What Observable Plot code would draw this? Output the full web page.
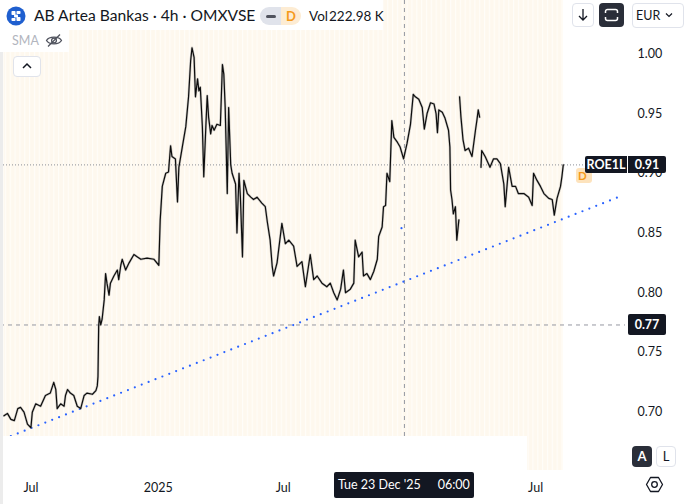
<!DOCTYPE html>
<html><head><meta charset="utf-8">
<script src="https://cdn.jsdelivr.net/npm/d3@7"></script>
<script src="https://cdn.jsdelivr.net/npm/@observablehq/plot@0.6"></script>
<style>
html,body{margin:0;padding:0;background:#fff;}
body{width:689px;height:504px;overflow:hidden;font-family:Lato,"Noto Sans",sans-serif;color:#131722;}
#wrap{position:relative;width:689px;height:504px;}
#wrap > svg{position:absolute;left:0;top:0;}
.ov{position:absolute;box-sizing:border-box;}
.btn{position:absolute;box-sizing:border-box;border:1px solid #e0e3eb;border-radius:4px;background:#fff;}
.lbl{position:absolute;box-sizing:border-box;background:#131722;color:#fff;font-size:12.5px;font-weight:700;text-align:center;}
</style></head>
<body><div id="wrap"></div>
<script>
const priceSeg1 = [
["2024-05-23",0.697],["2024-05-28",0.699],["2024-06-02",0.694],["2024-06-07",0.693],["2024-06-12",0.703],
["2024-06-16",0.704],["2024-06-21",0.700],["2024-06-26",0.690],["2024-07-01",0.687],["2024-07-03",0.700],
["2024-07-08",0.707],["2024-07-15",0.705],["2024-07-22",0.714],["2024-07-29",0.716],["2024-08-03",0.725],
["2024-08-06",0.719],["2024-08-08",0.703],["2024-08-13",0.707],["2024-08-18",0.705],["2024-08-20",0.714],
["2024-08-23",0.719],["2024-08-27",0.716],["2024-09-01",0.714],["2024-09-06",0.705],["2024-09-11",0.703],
["2024-09-16",0.714],["2024-09-20",0.716],["2024-09-28",0.715],["2024-10-03",0.718],["2024-10-05",0.722],
["2024-10-06",0.730],["2024-10-07",0.772],["2024-10-08",0.780],["2024-10-10",0.773],["2024-10-12",0.778],
["2024-10-15",0.794],["2024-10-17",0.816],["2024-10-19",0.808],["2024-10-22",0.798],["2024-10-24",0.808],
["2024-10-29",0.814],["2024-11-03",0.819],["2024-11-05",0.811],["2024-11-08",0.823],["2024-11-10",0.828],
["2024-11-15",0.819],["2024-11-20",0.825],["2024-11-27",0.832],["2024-12-02",0.830],["2024-12-07",0.828],
["2024-12-16",0.829],["2024-12-26",0.828],["2025-01-02",0.823],["2025-01-04",0.861],["2025-01-07",0.889],
["2025-01-12",0.900],["2025-01-16",0.901],["2025-01-19",0.923],["2025-01-21",0.914],["2025-01-26",0.912],
["2025-01-29",0.876],["2025-01-31",0.905],["2025-02-05",0.922],["2025-02-10",0.939],["2025-02-14",0.964],
["2025-02-17",0.994],["2025-02-19",1.005],["2025-02-22",0.997],["2025-02-24",0.964],["2025-02-27",0.979],
["2025-03-01",0.969],["2025-03-03",0.972],["2025-03-06",0.939],["2025-03-08",0.897],["2025-03-11",0.939],
["2025-03-13",0.965],["2025-03-15",0.947],["2025-03-18",0.933],["2025-03-20",0.940],["2025-03-23",0.936],
["2025-03-27",0.941],["2025-04-01",0.940],["2025-04-04",0.991],["2025-04-06",0.983],["2025-04-08",0.955],
["2025-04-11",0.883],["2025-04-13",0.955],["2025-04-16",0.907],["2025-04-18",0.900],["2025-04-23",0.891],
["2025-04-25",0.850],["2025-04-28",0.900],["2025-04-30",0.880],["2025-05-03",0.830],["2025-05-05",0.894],
["2025-05-10",0.883],["2025-05-15",0.880],["2025-05-19",0.878],["2025-05-24",0.880],["2025-05-31",0.875],
["2025-06-05",0.872],["2025-06-08",0.859],["2025-06-12",0.844],["2025-06-15",0.822],["2025-06-17",0.814],
["2025-06-22",0.825],["2025-06-29",0.858],["2025-07-04",0.841],["2025-07-09",0.844],["2025-07-16",0.839],
["2025-07-21",0.822],["2025-07-28",0.826],["2025-08-02",0.805],["2025-08-09",0.832],["2025-08-14",0.811],
["2025-08-19",0.814],["2025-08-26",0.808],["2025-09-02",0.805],["2025-09-07",0.808],["2025-09-12",0.800],
["2025-09-17",0.794],["2025-09-22",0.803],["2025-09-26",0.819],["2025-09-29",0.800],["2025-10-06",0.803],
["2025-10-11",0.808],["2025-10-13",0.844],["2025-10-18",0.830],["2025-10-23",0.834],["2025-10-25",0.814],
["2025-10-30",0.816],["2025-11-04",0.811],["2025-11-09",0.818],["2025-11-14",0.828],["2025-11-16",0.847],
["2025-11-21",0.855],["2025-11-23",0.872],["2025-11-26",0.873],["2025-11-28",0.900],["2025-12-02",0.893],
["2025-12-05",0.944],["2025-12-08",0.930],["2025-12-13",0.926],["2025-12-17",0.922],["2025-12-22",0.912],
["2025-12-27",0.925],["2026-01-01",0.941],["2026-01-05",0.966],["2026-01-08",0.964],["2026-01-13",0.962],
["2026-01-18",0.955],["2026-01-21",0.937],["2026-01-25",0.950],["2026-01-30",0.959],["2026-02-04",0.958],
["2026-02-07",0.950],["2026-02-09",0.934],["2026-02-11",0.953],["2026-02-16",0.951],["2026-02-20",0.946],
["2026-02-25",0.936],["2026-02-27",0.922],["2026-02-28",0.886],["2026-03-02",0.878],["2026-03-04",0.866],
["2026-03-07",0.872],["2026-03-09",0.844],["2026-03-12",0.861]
];
const priceSeg2 = [
["2026-03-13",0.964],["2026-03-15",0.947],["2026-03-18",0.928],["2026-03-21",0.919],["2026-03-26",0.921],
["2026-03-31",0.914],["2026-04-05",0.936],["2026-04-07",0.944],["2026-04-09",0.953],["2026-04-11",0.947]
];
const priceSeg3 = [
["2026-04-13",0.905],["2026-04-14",0.919],["2026-04-19",0.914],["2026-04-26",0.905],["2026-05-01",0.912],
["2026-05-06",0.912],["2026-05-11",0.908],["2026-05-16",0.891],["2026-05-18",0.872],["2026-05-23",0.905],
["2026-05-28",0.889],["2026-06-02",0.889],["2026-06-06",0.883],["2026-06-14",0.883],["2026-06-21",0.880],
["2026-06-26",0.873],["2026-06-28",0.900],["2026-07-03",0.894],["2026-07-08",0.889],["2026-07-13",0.883],
["2026-07-20",0.879],["2026-07-25",0.878],["2026-07-28",0.865],["2026-08-01",0.879],["2026-08-06",0.889],
["2026-08-08",0.897],["2026-08-10",0.907]
];
const trendLine = [["2024-06-02",0.680],["2026-11-02",0.881]];
const strayMark = [["2025-12-19",0.854]];
const crosshair = {time:"2025-12-23 06:00", price:0.773};
const xDomain = ["2024-05-18","2026-11-08"];
const yDomain = [0.6512, 1.0446];
const xTickDates = ["2024-07-01","2025-01-01","2025-07-01","2026-07-01"];
const xTickLabels = ["Jul","2025","Jul","Jul"];
const yTicks = [0.70,0.75,0.80,0.85,0.90,0.95,1.00];
const symbol = "ROE1L";
const titleText = "AB Artea Bankas · 4h · OMXVSE";
const volText = "222.98 K";

// ---- build ----
const pDay = d3.utcParse("%Y-%m-%d");
const pTime = d3.utcParse("%Y-%m-%d %H:%M");
const rows = [];
[priceSeg1, priceSeg2, priceSeg3].forEach((s, i) => s.forEach(([d, v]) => rows.push({date: pDay(d), close: v, seg: i})));
const trend = trendLine.map(([d, v]) => ({date: pDay(d), v}));
const stray = strayMark.map(([d, v]) => ({date: pDay(d), v}));
const firstDate = rows[0].date, lastDate = rows[rows.length - 1].date;
const lastClose = rows[rows.length - 1].close;
const crossDate = pTime(crosshair.time);
const tickMap = new Map(xTickDates.map((d, i) => [+pDay(d), xTickLabels[i]]));

const plot = Plot.plot({
  width: 689, height: 504,
  marginLeft: 0, marginRight: 64, marginTop: 0, marginBottom: 34,
  style: {fontFamily: "Lato, 'Noto Sans', sans-serif", fontSize: "12.5px", color: "#131722", background: "transparent", overflow: "visible"},
  x: {type: "utc", domain: xDomain.map(pDay), label: null},
  y: {domain: yDomain, label: null},
  marks: [
    Plot.rect([{x1: firstDate, x2: lastDate}], {x1: "x1", x2: "x2", fill: "#fef9f0", className: "sessbg"}),
    Plot.ruleX([crossDate], {stroke: "#9598a1", strokeWidth: 1, strokeDasharray: "4 4"}),
    Plot.ruleY([crosshair.price], {stroke: "#9598a1", strokeWidth: 1, strokeDasharray: "4 4"}),
    Plot.ruleY([lastClose], {stroke: "#8c8f97", strokeWidth: 1, strokeDasharray: "1 2"}),
    Plot.line(trend, {x: "date", y: "v", stroke: "#2962ff", strokeWidth: 2.2, strokeDasharray: "0 7.4", strokeLinecap: "round"}),
    Plot.dot(stray, {x: "date", y: "v", r: 1.1, fill: "#2962ff"}),
    Plot.line(rows, {x: "date", y: "close", z: "seg", stroke: "#8a8a8a", strokeWidth: 2.4, strokeOpacity: 0.45}),
    Plot.line(rows, {x: "date", y: "close", z: "seg", stroke: "#0d0d0d", strokeWidth: 1.2}),
    Plot.axisX({ticks: xTickDates.map(pDay), tickFormat: d => tickMap.get(+d), tickSize: 0, tickPadding: 13, fontSize: 12.5, fill: "#131722"}),
    Plot.axisY({anchor: "right", ticks: yTicks, tickFormat: d => d.toFixed(2), tickSize: 0, tickPadding: 12, fontSize: 12.5, fill: "#131722"})
  ]
});

const wrap = document.getElementById("wrap");
wrap.appendChild(plot);

// faint weekly stripes inside the session background
const svg = d3.select(plot);
const defs = svg.insert("defs", ":first-child");
const pat = defs.append("pattern").attr("id", "stripes").attr("patternUnits", "userSpaceOnUse").attr("width", 4.84).attr("height", 10);
pat.append("rect").attr("width", 4.84).attr("height", 10).attr("fill", "#fef8ee");
pat.append("rect").attr("width", 1.2).attr("height", 10).attr("fill", "#fffdf9");
svg.selectAll(".sessbg rect").attr("fill", "url(#stripes)");

const sx = plot.scale("x"), sy = plot.scale("y");
const yLast = sy.apply(lastClose);
const yCross = sy.apply(crosshair.price);
const xCross = sx.apply(crossDate);
const fmtDay = d3.utcFormat("%a %d %b '%y"), fmtHour = d3.utcFormat("%H:%M");

const add = h => wrap.insertAdjacentHTML("beforeend", h);

// left edge strip & bottom pane cover
add(`<div class="ov" style="left:0;top:0;width:3px;height:504px;background:#ececec"></div>`);
add(`<div class="ov" style="left:3px;top:436px;width:524px;height:35px;background:#fff"></div>`);

// header
add(`<div class="ov" style="left:0;top:0;width:383px;height:30px;background:#fff"></div>`);
add(`<svg class="ov" style="left:6px;top:6px" width="20" height="20" viewBox="0 0 20 20">
  <circle cx="10" cy="10" r="9.5" fill="#1f5fcf"/>
  <rect x="5.5" y="5" width="4" height="4" rx="0.8" fill="#fff"/><rect x="10.5" y="5" width="4" height="3" rx="0.8" fill="#fff"/>
  <rect x="8" y="8.5" width="4" height="3" rx="0.8" fill="#fff"/>
  <rect x="5.5" y="12" width="4" height="3" rx="0.8" fill="#fff"/><rect x="10.5" y="11" width="4" height="4" rx="0.8" fill="#fff"/>
</svg>`);
add(`<div class="ov" style="left:34px;top:4px;font-size:15.6px;line-height:22px;color:#131722;white-space:nowrap">${titleText}</div>`);
add(`<div class="ov" style="left:260px;top:7px;width:21px;height:18px;background:#e0e3eb;border-radius:9px 0 0 9px"></div>`);
add(`<div class="ov" style="left:266px;top:14.5px;width:10px;height:3px;background:#50535e;border-radius:1.5px"></div>`);
add(`<div class="ov" style="left:281px;top:7px;width:20px;height:18px;background:#fdecd3;border-radius:0 9px 9px 0;color:#f59a1b;font-size:13px;font-weight:700;line-height:18px;text-align:center">D</div>`);
add(`<div class="ov" style="left:309px;top:6px;font-size:13.5px;line-height:20px;color:#131722;white-space:nowrap">Vol<span style="margin-left:1px">${volText}</span></div>`);

// SMA row
add(`<div class="ov" style="left:0;top:30px;width:69px;height:22px;background:#fff"></div>`);
add(`<div class="ov" style="left:12px;top:32px;font-size:12.5px;line-height:18px;color:#b2b5be">SMA</div>`);
add(`<svg class="ov" style="left:45px;top:33px" width="18" height="15" viewBox="0 0 18 15">
  <path d="M1.5 7.5 C4 3 14 3 16.5 7.5 C14 12 4 12 1.5 7.5 Z" fill="none" stroke="#50535e" stroke-width="1.3"/>
  <circle cx="9" cy="7.5" r="2.4" fill="none" stroke="#50535e" stroke-width="1.3"/>
  <path d="M3 13.5 L15 1.5" stroke="#50535e" stroke-width="1.3"/>
</svg>`);
add(`<div class="btn" style="left:13px;top:56px;width:28px;height:21px"></div>`);
add(`<svg class="ov" style="left:21px;top:61px" width="12" height="10" viewBox="0 0 12 10"><path d="M2 7 L6 3 L10 7" fill="none" stroke="#131722" stroke-width="1.5"/></svg>`);

// top right buttons
add(`<div class="btn" style="left:572px;top:3px;width:22px;height:24px"></div>`);
add(`<svg class="ov" style="left:577px;top:8px" width="12" height="14" viewBox="0 0 12 14"><path d="M6 1 V12 M2 8 L6 12 L10 8" fill="none" stroke="#131722" stroke-width="1.3"/></svg>`);
add(`<div class="ov" style="left:599px;top:3px;width:25px;height:24px;background:#2a2e39;border-radius:4px"></div>`);
add(`<svg class="ov" style="left:603px;top:7px" width="17" height="16" viewBox="0 0 17 16"><path d="M2.5 6 V4.5 a2 2 0 0 1 2-2 h8 a2 2 0 0 1 2 2 V6 M2.5 10 v1.5 a2 2 0 0 0 2 2 h8 a2 2 0 0 0 2-2 V10" fill="none" stroke="#fff" stroke-width="1.5"/></svg>`);
add(`<div class="btn" style="left:632px;top:3px;width:52px;height:25px"></div>`);
add(`<div class="ov" style="left:636px;top:6px;font-size:12.5px;line-height:19px;color:#131722">EUR</div>`);
add(`<svg class="ov" style="left:664px;top:11px" width="10" height="8" viewBox="0 0 10 8"><path d="M2 2.5 L5 5.5 L8 2.5" fill="none" stroke="#131722" stroke-width="1.2"/></svg>`);

// bottom right controls
add(`<div class="ov" style="left:632px;top:446px;width:20px;height:21px;background:#2a2e39;border-radius:4px;color:#fff;font-size:13px;font-weight:700;line-height:21px;text-align:center">A</div>`);
add(`<div class="btn" style="left:656px;top:446px;width:20px;height:21px;color:#131722;font-size:13px;line-height:19px;text-align:center">L</div>`);
add(`<svg class="ov" style="left:645px;top:475px" width="19" height="19" viewBox="0 0 19 19">
  <path d="M5.5 2.5 H13.5 L17.5 9.5 L13.5 16.5 H5.5 L1.5 9.5 Z" fill="none" stroke="#131722" stroke-width="1.3" stroke-linejoin="round"/>
  <circle cx="9.5" cy="9.5" r="2.8" fill="none" stroke="#131722" stroke-width="1.3"/>
</svg>`);

// dividend badge + price labels
add(`<div class="ov" style="left:576px;top:${yLast + 4}px;width:16px;height:15px;background:#fde3bd;border-radius:3px;color:#f59a1b;font-size:11.5px;font-weight:700;line-height:15px;padding-left:2px">D</div>`);
add(`<div class="lbl" style="left:585px;top:${yLast - 8.5}px;width:42px;height:17px;line-height:17px;border-radius:2px 0 0 2px">${symbol}</div>`);
add(`<div class="lbl" style="left:628px;top:${yLast - 8.5}px;width:38px;height:17px;line-height:17px;border-radius:0 2px 2px 0">${lastClose.toFixed(2)}</div>`);
add(`<div class="lbl" style="left:628px;top:${yCross - 10.5}px;width:38px;height:21px;line-height:21px;border-radius:2px">${crosshair.price.toFixed(2)}</div>`);
add(`<div class="lbl" style="left:${xCross - 70}px;top:472px;width:140px;height:26px;line-height:26px;font-weight:400;border-radius:2px;white-space:nowrap">${fmtDay(crossDate)}<span style="margin-left:17px">${fmtHour(crossDate)}</span></div>`);
</script>
</body></html>
